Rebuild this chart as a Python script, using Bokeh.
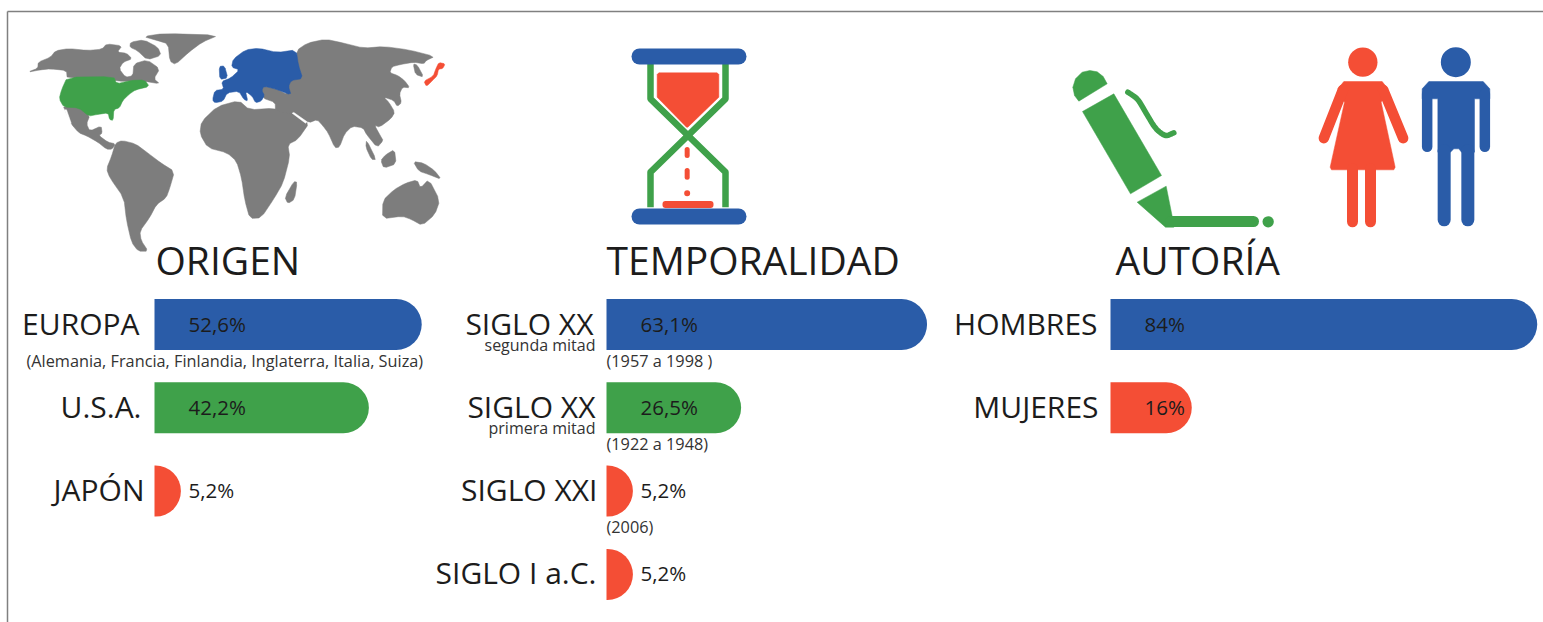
from bokeh.plotting import figure
from bokeh.models import Range1d, ColumnDataSource
from bokeh.core.properties import value
from bokeh.embed import file_html
from bokeh.resources import INLINE

# ---------- data ----------
origen_labels = ["EUROPA", "U.S.A.", "JAPÓN"]
origen_values = [52.6, 42.2, 5.2]
origen_texts = ["52,6%", "42,2%", "5,2%"]
tempo_labels = ["SIGLO XX", "SIGLO XX", "SIGLO XXI", "SIGLO I a.C."]
tempo_values = [63.1, 26.5, 5.2, 5.2]
tempo_texts = ["63,1%", "26,5%", "5,2%", "5,2%"]
tempo_sub = ["segunda mitad", "primera mitad"]
tempo_years = ["(1957 a 1998 )", "(1922 a 1948)", "(2006)"]
autoria_labels = ["HOMBRES", "MUJERES"]
autoria_values = [84, 16]
autoria_texts = ["84%", "16%"]
origen_note = "(Alemania, Francia, Finlandia, Inglaterra, Italia, Suiza)"
titles = ["ORIGEN", "TEMPORALIDAD", "AUTORÍA"]

BLUE, GREEN, RED, GRAY = "#2A5CA8", "#3FA14A", "#F44E35", "#7D7D7D"
INK = "#1c1c1c"
FONT = value("Open Sans")
origen_colors = [BLUE, GREEN, RED]
tempo_colors = [BLUE, GREEN, RED, RED]
autoria_colors = [BLUE, RED]

# ---------- canvas: main ranges are window pixels ----------
W, H = 1543, 622
p = figure(width=W, height=H, output_backend="svg", toolbar_location=None,
           x_range=Range1d(0, W), y_range=Range1d(H, 0),
           min_border=0, outline_line_color=None, background_fill_color="white")
p.axis.visible = False
p.grid.visible = False

# bar scales: percent on x (one origin per panel), row number on y
PX_PER_PCT = 5.08
ROW0, ROW_STEP = 324.0, 83.3
BASES = {"o": 154, "t": 606, "a": 1110}
for k, b in BASES.items():
    p.extra_x_ranges[k] = Range1d(-b / PX_PER_PCT, (W - b) / PX_PER_PCT)
p.extra_y_ranges["row"] = Range1d((H - ROW0) / ROW_STEP, -ROW0 / ROW_STEP)


def txt(x, y, s, size, align="left", color=INK):
    p.text(x=[x], y=[y], text=[s], text_font=FONT, text_font_size=f"{size}px",
           text_align=align, text_baseline="middle", text_color=color)


def panel(key, labels, values, texts, colors, ends):
    rows = list(range(len(values)))
    src = ColumnDataSource(dict(v=values, r=rows, c=colors, t=texts))
    p.hbar(y="r", left=0, right="v", height=51 / ROW_STEP, fill_color="c", line_color=None,
           border_radius=(0, 26, 26, 0), source=src, x_range_name=key, y_range_name="row")
    p.text(x=0, y="r", text="t", source=src, x_range_name=key, y_range_name="row",
           x_offset=34, y_offset=-1, text_font=FONT, text_font_size="20.5px", text_align="left",
           text_baseline="middle", text_color=INK)
    for r, (lab, off) in enumerate(zip(labels, ends)):
        p.text(x=[0], y=[r], text=[lab], x_range_name=key, y_range_name="row", x_offset=off,
               y_offset=-1.5, text_font=FONT, text_font_size=f"{LABEL_SIZE}px", text_align="right",
               text_baseline="middle", text_color=INK)


def chaikin(pts, n=1, closed=True):
    for _ in range(n):
        out = []
        m = len(pts)
        rng = range(m) if closed else range(m - 1)
        if not closed:
            out.append(pts[0])
        for i in rng:
            a, b = pts[i], pts[(i + 1) % m]
            out.append((0.8 * a[0] + 0.2 * b[0], 0.8 * a[1] + 0.2 * b[1]))
            out.append((0.2 * a[0] + 0.8 * b[0], 0.2 * a[1] + 0.8 * b[1]))
        if not closed:
            out.append(pts[-1])
        pts = out
    return pts


def poly(points, color, ox=0.0, oy=0.0, smooth=1):
    pts = chaikin(points, smooth) if smooth else points
    p.patch([ox + a / 3 for a, _ in pts], [oy + b / 3 for _, b in pts],
            fill_color=color, line_color=color, line_width=0.5)


def disc(cx, cy, r, color, ox=0.0, oy=0.0):
    p.circle(x=[ox + cx / 3], y=[oy + cy / 3], radius=r / 3, fill_color=color, line_color=None)


def stroke(points, color, w, ox=0.0, oy=0.0, cap="round", smooth=0):
    pts = chaikin(points, smooth, closed=False) if smooth else points
    p.line([ox + a / 3 for a, _ in pts], [oy + b / 3 for _, b in pts],
           line_color=color, line_width=w, line_cap=cap, line_join="round")


# frame
p.line([7, W], [11, 11], line_color="#808080", line_width=1.5)
p.line([7, 7], [11, H], line_color="#808080", line_width=1.5)

# ---------- world map ----------
gray_land = [
    [(82,215),(112,203),(113,185),(150,170),(165,151),(205,144),(260,150),(305,146),(318,130),(365,136),(350,155),(378,158),(395,175),(368,185),(356,205),(375,230),(397,226),(400,190),(440,178),(478,205),(460,235),(478,250),(430,242),(345,242),(340,232),(200,234),(198,210),(150,205),(120,208)],
    [(390,125),(430,118),(472,140),(482,165),(440,178),(410,150),(388,140)],
    [(428,108),(490,99),(655,104),(605,125),(565,155),(525,192),(508,182),(503,130),(470,120)],
    [(188,316),(240,318),(268,345),(258,370),(268,392),(302,376),(305,398),(295,405),(322,425),(345,430),(335,446),(318,446),(292,425),(258,406),(235,397),(212,370),(196,335)],
    [(345,428),(365,420),(405,430),(440,456),(482,488),(522,513),(508,562),(497,592),(468,612),(447,652),(418,692),(422,720),(443,752),(413,752),(393,725),(378,660),(370,592),(328,532),(318,505),(333,468)],
    [(598,400),(603,363),(650,318),(715,300),(747,328),(820,323),(880,338),(928,365),(892,417),(862,432),(868,470),(848,547),(822,592),(782,652),(748,654),(733,600),(723,532),(708,482),(680,457),(622,442)],
    [(888,150),(920,128),(975,116),(1030,128),(1090,143),(1150,138),(1225,148),(1303,168),(1277,180),(1270,190),(1240,185),(1200,192),(1174,199),(1168,217),(1192,225),(1212,240),(1228,262),(1206,260),(1197,280),(1203,307),(1190,318),(1180,300),(1150,290),(1165,305),(1183,335),(1172,354),(1137,380),(1122,374),(1142,410),(1148,420),(1130,441),(1098,402),(1088,382),(1055,377),(1032,400),(1017,440),(1003,442),(983,397),(968,377),(950,357),(925,367),(880,342),(825,330),(824,306),(785,292),(783,253),(830,266),(860,282),(860,258),(868,238),(905,230),(890,195)],
    [(1238,190),(1250,193),(1270,230),(1245,222)],
    [(880,543),(890,545),(882,597),(862,609),(853,590)],
    [(1155,463),(1182,447),(1187,490),(1150,503),(1141,480)],
    [(1098,418),(1127,477),(1113,477),(1096,440)],
    [(1238,483),(1270,488),(1302,510),(1323,537),(1285,522),(1255,512)],
    [(1147,600),(1180,568),(1215,548),(1250,538),(1260,563),(1285,536),(1318,600),(1303,642),(1265,675),(1233,657),(1205,647),(1146,655)],
]
for s in gray_land:
    poly(s, GRAY)
poly([(875,338),(880,336),(920,364),(915,368)], "white", smooth=0)
poly([(192,328),(198,328),(212,368),(205,365)], "white", smooth=0)
poly([(200,230),(340,228),(348,250),(390,240),(432,238),(447,258),(405,268),(385,282),(367,300),(357,322),(340,327),(338,360),(327,357),(323,337),(290,342),(265,347),(235,322),(190,320),(176,295),(183,268)], GREEN)
poly([(636,298),(643,270),(670,266),(663,243),(690,233),(717,208),(693,200),(698,176),(735,148),(775,143),(830,156),(887,148),(894,195),(907,234),(872,240),(864,258),(872,284),(830,267),(790,257),(784,270),(792,285),(782,302),(765,307),(755,287),(735,272),(742,302),(730,297),(715,272),(680,277),(668,302),(643,307)], BLUE)
poly([(656,198),(672,196),(682,232),(658,237)], BLUE)
poly([(1315,186),(1334,190),(1327,204),(1314,206),(1310,226),(1296,240),(1278,258),(1270,242),(1298,227),(1306,205)], RED)

# ---------- hourglass ----------
stroke([(150,100),(150,205),(375,425),(375,530)], GREEN, 6.5, 600, 30, "butt")
stroke([(375,100),(375,205),(150,425),(150,530)], GREEN, 6.5, 600, 30, "butt")
p.hbar(y=[56, 216], left=631, right=746, height=16, fill_color=BLUE, line_color=None, border_radius=8)
poly([(170,132),(175,127),(350,127),(355,132),(355,200),(262,290),(258,290),(170,200)], RED, 600, 30, smooth=0)
stroke([(260,357),(260,375)], RED, 5, 600, 30)
stroke([(260,420),(260,440)], RED, 5, 600, 30)
disc(260, 488, 9, RED, 600, 30)
p.hbar(y=[204], left=662, right=713, height=7, fill_color=RED, line_color=None, border_radius=3)

# ---------- pen ----------
OX, OY = 1050, 30
poly([(85,212),(170,160),(158,138),(140,124),(118,120),(95,125),(75,145),(67,170),(72,195)], GREEN, OX, OY, smooth=0)
poly([(96,243),(190,190),(333,435),(240,490)], GREEN, OX, OY, smooth=0)
poly([(260,515),(347,467),(365,557),(370,590),(345,590)], GREEN, OX, OY, smooth=0)
stroke([(360,573),(609,573)], GREEN, 11, OX, OY)
disc(653, 574, 17, GREEN, OX, OY)
stroke([(232,185),(262,205),(285,245),(315,295),(345,318),(370,307)], GREEN, 5.5, OX, OY, smooth=3)

# ---------- figures ----------
disc(937, 95, 44, RED, OX, OY)
poly([(880,153),(995,153),(1012,175),(992,215),(1034,410),(1030,418),(843,418),(839,410),(882,215),(862,175)], RED, OX, OY, smooth=0)
stroke([(877,178),(820,323)], RED, 10.5, OX, OY)
stroke([(998,178),(1058,323)], RED, 10.5, OX, OY)
stroke([(906,415),(906,574)], RED, 11, OX, OY)
stroke([(960,415),(960,574)], RED, 11, OX, OY)
disc(1216, 95, 45, BLUE, OX, OY)
poly([(1135,153),(1298,153),(1318,175),(1318,205),(1272,205),(1272,365),(1233,365),(1225,355),(1210,355),(1200,365),(1162,365),(1162,205),(1115,205),(1115,175)], BLUE, OX, OY, smooth=0)
stroke([(1130,190),(1130,349)], BLUE, 10.5, OX, OY)
stroke([(1303,190),(1303,349)], BLUE, 10.5, OX, OY)
stroke([(1181,360),(1181,568)], BLUE, 13, OX, OY)
stroke([(1252,360),(1252,568)], BLUE, 13, OX, OY)

# ---------- bars and labels ----------
LABEL_SIZE = 30
panel("o", origen_labels, origen_values, origen_texts, origen_colors, [-15, -13, -10])
panel("t", tempo_labels, tempo_values, tempo_texts, tempo_colors, [-13, -11, -9, -10])
panel("a", autoria_labels, autoria_values, autoria_texts, autoria_colors, [-13, -12])

for x, t in zip([155, 606, 1115], titles):
    txt(x, 259, t, 39)
txt(26, 360, origen_note, 16.3, color="#333333")
for y, t in zip([360, 443, 526], tempo_years):
    txt(606, y, t, 16.3, color="#333333")
for y, t in zip([344, 427], tempo_sub):
    txt(595, y, t, 16, align="right", color="#333333")

open("out.html", "w").write(file_html(p, INLINE))
